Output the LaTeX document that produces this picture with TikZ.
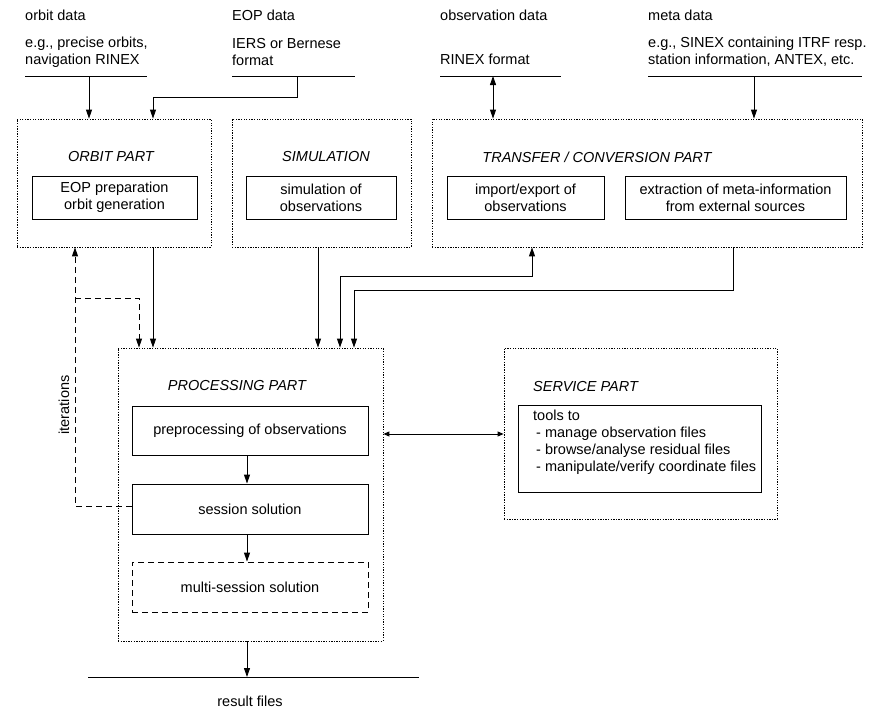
\documentclass[tikz,border=0pt]{standalone}
\usepackage{fontspec}
\setmainfont{Liberation Sans}
\usetikzlibrary{arrows.meta}
\begin{document}
\begin{tikzpicture}[x=1pt,y=-1pt,
  every node/.style={font=\fontsize{14.5}{17}\selectfont, inner sep=0pt},
  partbox/.style={draw, line width=0.8pt, dash pattern=on 1.3pt off 1.3pt},
  innerbox/.style={draw, line width=0.9pt, align=center},
  title/.style={font=\fontsize{14.5}{17}\selectfont\itshape},
  lbl/.style={anchor=west, align=left},
  conn/.style={line width=0.9pt},
  arr/.style={conn, -{Triangle[length=9pt,width=6pt]}},
  darr/.style={conn, {Triangle[length=9pt,width=6pt]}-{Triangle[length=9pt,width=6pt]}},
  sarr/.style={conn, {Triangle[length=6pt,width=5pt]}-{Triangle[length=6pt,width=5pt]}},
  longdash/.style={dash pattern=on 6pt off 4pt}]
\useasboundingbox (0,0) rectangle (887,713);

% data sources
\node[lbl] (od) at (25,15) {orbit data};
\node[lbl] (odt) at (25,52) {e.g., precise orbits,\\navigation RINEX};
\coordinate (odl1) at (25,76); \coordinate (odl2) at (147,76);
\draw[conn] (odl1) -- (odl2);

\node[lbl] (ed) at (232,15) {EOP data};
\node[lbl] (edt) at (232,52) {IERS or Bernese\\format};
\coordinate (edl1) at (232,76); \coordinate (edl2) at (355,76);
\draw[conn] (edl1) -- (edl2);

\node[lbl] (obd) at (440,15) {observation data};
\node[lbl] (obdt) at (440,59) {RINEX format};
\coordinate (obl1) at (440,76); \coordinate (obl2) at (561,76);
\draw[conn] (obl1) -- (obl2);

\node[lbl] (md) at (648,15) {meta data};
\node[lbl] (mdt) at (648,52) {e.g., SINEX containing ITRF resp.\\station information, ANTEX, etc.};
\coordinate (mdl1) at (648,76); \coordinate (mdl2) at (862,76);
\draw[conn] (mdl1) -- (mdl2);

% parts
\node[partbox, minimum width=194pt, minimum height=128pt] (orbit) at (114,183) {};
\node[title] (orbitt) at (111,157) {ORBIT PART};
\node[innerbox, minimum width=165pt, minimum height=43pt] (eop) at (114.5,197.5) {EOP preparation\\orbit generation};

\node[partbox, minimum width=179pt, minimum height=128pt] (sim) at (321.5,183) {};
\node[title] (simt) at (326,157) {SIMULATION};
\node[innerbox, minimum width=150pt, minimum height=43pt] (simi) at (321,197.5) {simulation of\\observations};

\node[partbox, minimum width=430pt, minimum height=128pt] (trans) at (647,183) {};
\node[title] (transt) at (597,157) {TRANSFER / CONVERSION PART};
\node[innerbox, minimum width=157pt, minimum height=43pt] (imp) at (525.5,197.5) {import/export of\\observations};
\node[innerbox, minimum width=221pt, minimum height=43pt] (ext) at (735.5,197.5) {extraction of meta-information\\from external sources};

\node[partbox, minimum width=265pt, minimum height=293pt] (proc) at (250.5,494.5) {};
\node[title] (proct) at (237,386) {PROCESSING PART};
\node[innerbox, minimum width=236pt, minimum height=49pt] (pre) at (250,430.5) {preprocessing of observations};
\node[innerbox, minimum width=236pt, minimum height=50pt] (sess) at (250,509) {session solution};
\node[innerbox, longdash, minimum width=236pt, minimum height=50pt] (multi) at (250,587) {multi-session solution};

\node[partbox, minimum width=273pt, minimum height=171pt] (serv) at (640.5,433.5) {};
\node[title, anchor=west] (servt) at (533,387) {SERVICE PART};
\node[innerbox, minimum width=243pt, minimum height=87pt] (servi) at (639.5,448.5) {};
\node[lbl] (servtx) at (533,442.5) {tools to\\\hspace*{3pt}- manage observation files\\\hspace*{3pt}- browse/analyse residual files\\\hspace*{3pt}- manipulate/verify coordinate files};

% result
\coordinate (rl1) at (88,677); \coordinate (rl2) at (419,677);
\draw[conn] (rl1) -- (rl2);
\node (res) at (250,701) {result files};

\node[rotate=90] (iter) at (64,405) {iterations};

% connectors top
\draw[arr] (89,76) -- (orbit.north -| 89,0);
\draw[arr] (297,76) -- (297,97) -- (153,97) -- (orbit.north -| 153,0);
\draw[darr] (493,76) -- (trans.north -| 493,0);
\draw[arr] (754,76) -- (trans.north -| 754,0);

% connectors to processing
\draw[arr] (orbit.south -| 153,0) -- (proc.north -| 153,0);
\draw[arr] (sim.south -| 318,0) -- (proc.north -| 318,0);
\draw[darr] (trans.south -| 532,0) -- (532,276) -- (340,276) -- (proc.north -| 340,0);
\draw[arr] (trans.south -| 733,0) -- (733,290) -- (354,290) -- (proc.north -| 354,0);

% iterations
\draw[conn, longdash, -{Triangle[length=9pt,width=6pt]}] (sess.west |- 0,506) -- (75,506) -- (orbit.south -| 75,0);
\draw[conn, longdash, -{Triangle[length=9pt,width=6pt]}] (75,298) -- (139,298) -- (proc.north -| 139,0);

% inside processing
\draw[arr] (pre.south -| 247,0) -- (sess.north -| 247,0);
\draw[arr] (sess.south -| 247,0) -- (multi.north -| 247,0);
\draw[arr] (proc.south -| 247,0) -- (rl1 -| 247,0);

% processing <-> service
\draw[sarr] (proc.east |- 0,434) -- (serv.west |- 0,434);
\end{tikzpicture}
\end{document}
